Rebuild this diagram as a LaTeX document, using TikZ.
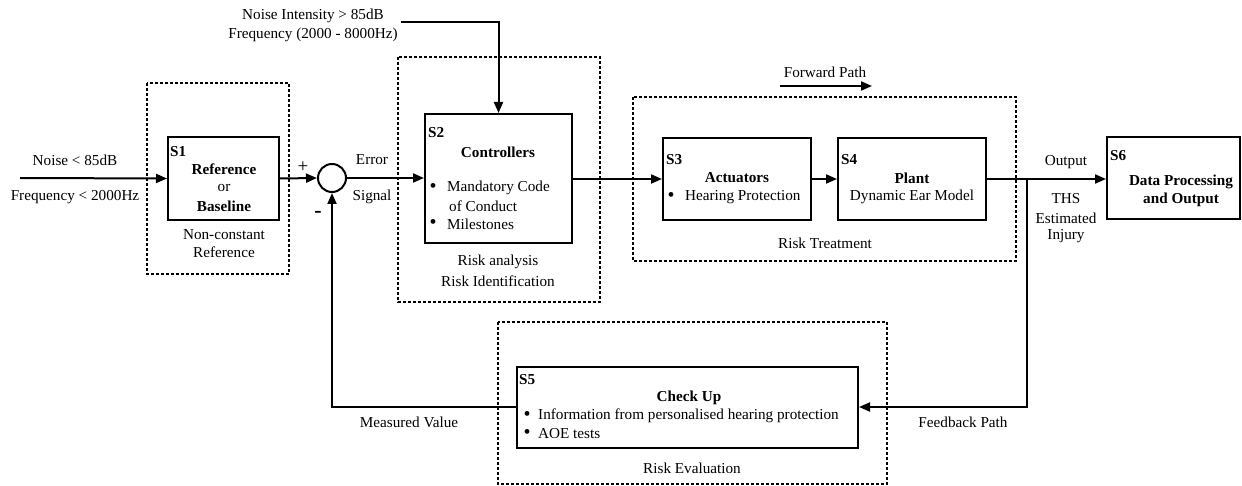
\documentclass[tikz,border=0pt]{standalone}
\usepackage{fontspec}
\setmainfont{Liberation Serif}
\usetikzlibrary{arrows.meta}
\begin{document}
\begin{tikzpicture}[x=1pt,y=-1pt,
  every node/.style={font=\fontsize{15.2}{18}\selectfont, inner sep=0pt},
  blk/.style={draw, line width=2pt, rectangle},
  grp/.style={draw, line width=1.8pt, dash pattern=on 3pt off 2pt},
  con/.style={line width=2pt},
  arr/.style={con, -{Triangle[length=11pt,width=9pt]}},
  lbl/.style={anchor=center},
  tag/.style={anchor=west, font=\fontsize{15.2}{18}\selectfont\bfseries},
  bul/.style={anchor=center, font=\fontsize{20}{20}\selectfont}
]
\useasboundingbox (0,0) rectangle (1242,486);

% dashed group boxes
\draw[grp] (147,83) rectangle (289,274);
\draw[grp] (398,57) rectangle (600,302);
\draw[grp] (633,97) rectangle (1016,261);
\draw[grp] (498,322) rectangle (887,484);

% blocks
\node[blk, minimum width=111pt, minimum height=83pt] (s1) at (223.5,178.5) {};
\node[blk, minimum width=147pt, minimum height=129pt] (s2) at (498.5,178.5) {};
\node[blk, minimum width=148pt, minimum height=82pt] (s3) at (737,179) {};
\node[blk, minimum width=148pt, minimum height=82pt] (s4) at (912,179) {};
\node[blk, minimum width=133pt, minimum height=82pt] (s6) at (1173.5,178) {};
\node[blk, minimum width=341pt, minimum height=81pt] (s5) at (687.5,407.5) {};
\node[draw, circle, line width=2pt, minimum size=28pt] (sum) at (332,178) {};

% coordinates
\coordinate (in) at (20,178);
\coordinate (nz) at (401,22);
\coordinate (nzc) at (s2.north |- nz);
\coordinate (br) at (1027,178);
\coordinate (brd) at (1027,407);
\coordinate (fb) at (332,407);
\coordinate (fwa) at (780,86);
\coordinate (fwb) at (872,86);

% connectors
\draw[arr] (in) -- (s1.west);
\draw[arr] (s1.east) -- (sum.west);
\draw[arr] (sum.east) -- (sum.east -| s2.west);
\draw[arr] (s2.east |- s3.west) -- (s3.west);
\draw[arr] (nz) -- (nzc) -- (s2.north);
\draw[arr] (s3.east) -- (s4.west);
\draw[arr] (s4.east) -- (s4.east -| s6.west);
\draw[arr] (br) -- (brd) -- (brd -| s5.east);
\draw[arr] (s5.west |- fb) -- (fb) -- (sum.south);
\draw[arr] (fwa) -- (fwb);

% S1 texts
\node[tag] (t1) at (170,152) {S1};
\node[lbl, font=\fontsize{15.2}{18}\selectfont\bfseries] (t1a) at (224,169) {Reference};
\node[lbl] (t1b) at (224,188) {or};
\node[lbl, font=\fontsize{15.2}{18}\selectfont\bfseries] (t1c) at (224,206) {Baseline};
\node[lbl] (t1d) at (224,235) {Non-constant};
\node[lbl] (t1e) at (224,252) {Reference};

% inputs
\node[lbl] (n1) at (75,160) {Noise < 85dB};
\node[lbl] (n2) at (75,197) {Frequency < 2000Hz};
\node[lbl] (n3) at (313,16) {Noise Intensity > 85dB};
\node[lbl] (n4) at (313,35) {Frequency (2000 - 8000Hz)};
\node[lbl, font=\fontsize{19}{19}\selectfont] (plus) at (303,167) {+};
\node[lbl, font=\fontsize{22}{22}\selectfont\bfseries] (minus) at (318,214) {-};
\node[lbl] (e1) at (372,160) {Error};
\node[lbl] (e2) at (372,197) {Signal};

% S2 texts
\node[tag] (t2) at (428,133) {S2};
\node[lbl, font=\fontsize{15.2}{18}\selectfont\bfseries] (t2a) at (498,152) {Controllers};
\node[bul] (b21) at (433,188) {\textbullet};
\node[anchor=west] (t2b) at (447,188) {Mandatory Code};
\node[anchor=west] (t2c) at (449,206) {of Conduct};
\node[bul] (b22) at (433,224) {\textbullet};
\node[anchor=west] (t2d) at (447,224) {Milestones};
\node[lbl] (t2e) at (498,262) {Risk analysis};
\node[lbl] (t2f) at (498,281) {Risk Identification};

% S3 / S4
\node[tag] (t3) at (666,160) {S3};
\node[lbl, font=\fontsize{15.2}{18}\selectfont\bfseries] (t3a) at (737,178) {Actuators};
\node[bul] (b31) at (671,197) {\textbullet};
\node[anchor=west] (t3b) at (685,197) {Hearing Protection};
\node[tag] (t4) at (841,160) {S4};
\node[lbl, font=\fontsize{15.2}{18}\selectfont\bfseries] (t4a) at (912,178) {Plant};
\node[lbl] (t4b) at (912,197) {Dynamic Ear Model};
\node[lbl] (rt) at (825,243) {Risk Treatment};
\node[lbl] (fp) at (825,72) {Forward Path};

% output side
\node[lbl] (o1) at (1066,162) {Output};
\node[lbl] (o2) at (1066,199) {THS};
\node[lbl] (o3) at (1066,218) {Estimated};
\node[lbl] (o4) at (1066,236) {Injury};
\node[tag] (t6) at (1110,156) {S6};
\node[lbl, font=\fontsize{15.2}{18}\selectfont\bfseries] (t6a) at (1181,182) {Data Processing};
\node[lbl, font=\fontsize{15.2}{18}\selectfont\bfseries] (t6b) at (1181,200) {and Output};

% S5
\node[tag] (t5) at (519,380) {S5};
\node[lbl, font=\fontsize{15.2}{18}\selectfont\bfseries] (t5a) at (689,398) {Check Up};
\node[bul] (b51) at (527,416) {\textbullet};
\node[anchor=west] (t5b) at (538,416) {Information from personalised hearing protection};
\node[bul] (b52) at (527,434) {\textbullet};
\node[anchor=west] (t5c) at (538,434) {AOE tests};
\node[lbl] (re) at (692,468) {Risk Evaluation};
\node[lbl] (mv) at (409,422) {Measured Value};
\node[lbl] (fbp) at (963,422) {Feedback Path};
\end{tikzpicture}
\end{document}
